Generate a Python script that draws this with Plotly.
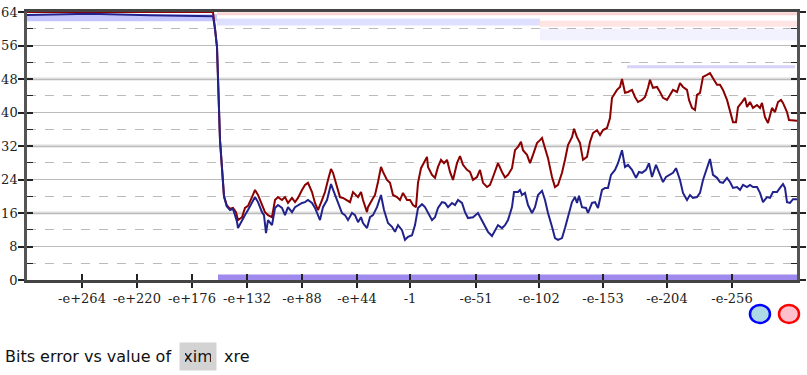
import plotly.graph_objects as go

# ---- data (positions along the ordinal x axis, bits of error on y) ----
red_x = [0, 186, 188, 190, 193, 195.7, 197, 199.7, 203, 206, 209, 211, 215, 218, 221, 225, 228, 231, 235, 238,
         241, 245, 248, 251, 255, 258, 261, 265, 268, 271, 275, 278, 281, 285, 288, 291, 295, 298, 301, 304,
         306, 310, 313, 316, 320, 323, 326, 331, 334, 336, 340, 341, 345, 348, 351, 354, 356, 360, 363, 366,
         370, 373, 376, 380, 383, 386, 389, 391, 394, 398, 400, 401, 405, 408, 411, 414, 417, 420, 423, 426,
         430, 433, 436, 440, 443, 446, 450, 453, 456, 460, 463, 466, 471, 475, 478, 481, 485, 488, 491, 494,
         496, 500, 503, 506, 510, 513, 515, 518, 521, 525, 528, 531, 535, 538, 541, 545, 547, 550, 553, 556,
         560, 563, 566, 570, 573, 576, 580, 583, 585, 590, 593, 595, 598, 601, 605, 608, 611, 615, 618, 621,
         623, 626, 630, 633, 636, 640, 643, 646, 650, 653, 656, 660, 662, 665, 668, 670, 673, 676, 680, 683,
         686, 690, 693, 696, 700, 703, 706, 709, 711, 715, 718, 720, 723, 726, 730, 733, 735, 738, 741, 745,
         748, 751, 754, 756, 760, 762, 770]
red_y = [64, 64, 60, 55.6, 33.4, 23.9, 20, 17.9, 17.0, 17.2, 16.2, 14.3, 15.0, 17.2, 17.7, 19.8, 21.5, 20.3, 17.9, 16.2,
         15.5, 15.0, 19.1, 19.8, 19.1, 19.8, 18.4, 19.6, 18.6, 19.6, 21.5, 22.7, 23.2, 21.0, 18.4, 16.7, 19.1, 21.0, 23.9, 26.5,
         25.6, 22.2, 19.8, 19.6, 19.1, 18.6, 21.0, 19.8, 21.0, 19.1, 16.2, 17.4, 19.1, 20.3, 23.4, 27.0, 25.8, 23.9, 23.2, 20.3,
         19.8, 19.1, 20.8, 19.1, 19.1, 17.9, 17.4, 23.2, 26.7, 28.7, 29.4, 27.0, 25.1, 24.4, 27.0, 28.7, 27.9, 28.7, 25.8, 23.9,
         27.9, 29.6, 27.5, 26.3, 25.8, 23.9, 24.6, 26.3, 23.2, 22.2, 22.7, 24.6, 27.9, 25.8, 24.5, 25.1, 26.7, 31.0, 31.8, 33.0,
         31.0, 29.9, 27.9, 29.9, 32.7, 33.4, 33.9, 31.5, 29.1, 24.6, 22.2, 22.7, 25.6, 28.7, 32.2, 34.1, 36.1, 34.1, 32.7, 28.7,
         29.4, 33.0, 35.1, 35.8, 34.6, 35.8, 36.3, 38.7, 43.5, 45.4, 46.1, 48.0, 44.7, 44.9, 45.4, 43.7, 42.5, 43.0, 43.7, 45.9,
         47.8, 45.9, 46.1, 44.9, 43.5, 43.0, 44.2, 45.4, 44.9, 47.0, 46.1, 45.4, 43.0, 41.1, 40.6, 44.2, 44.7, 48.5, 49.0, 49.4,
         48.2, 46.6, 46.6, 45.4, 43.0, 40.6, 37.7, 37.7, 41.3, 42.5, 43.5, 41.3, 42.5, 41.1, 41.8, 41.1, 42.3, 38.9, 37.5, 41.1,
         40.1, 42.5, 43.0, 42.3, 40.1, 38.2, 38.0]

blue_x = [0, 63, 123, 186, 188, 190, 193, 195.7, 197, 199.7, 203, 206, 210, 211, 215, 218, 221, 225, 228, 231,
          235, 237, 239, 241, 245, 248, 251, 255, 258, 261, 265, 268, 271, 275, 278, 281, 285, 288, 293, 296,
          300, 304, 307, 311, 315, 318, 321, 325, 328, 331, 334, 336, 340, 343, 346, 350, 354, 357, 361, 365,
          368, 371, 375, 378, 381, 385, 388, 391, 395, 398, 401, 405, 408, 411, 415, 418, 421, 425, 428, 431,
          435, 438, 441, 446, 451, 455, 458, 461, 465, 468, 471, 475, 478, 481, 485, 487, 491, 493, 495, 498,
          501, 505, 508, 511, 515, 518, 521, 525, 528, 531, 535, 538, 541, 545, 548, 550, 552, 555, 559, 561,
          565, 568, 571, 575, 578, 581, 584, 588, 591, 595, 598, 601, 605, 609, 612, 615, 619, 622, 625, 629,
          631, 633, 636, 639, 643, 646, 649, 653, 656, 660, 663, 666, 670, 673, 676, 679, 683, 686, 690, 693,
          696, 700, 703, 706, 710, 713, 716, 720, 723, 726, 730, 733, 736, 740, 743, 746, 750, 753, 756, 758,
          760, 763, 766, 770]
blue_y = [63.3, 63.6, 63.2, 63.0, 60, 55.6, 33.4, 23.9, 20, 17.6, 16.7, 17.0, 13.9, 12.4, 14.3, 15.5, 16.7, 18.4, 19.8, 18.6,
          16.2, 15.5, 11.2, 14.3, 13.1, 17.2, 17.9, 17.2, 15.5, 17.4, 16.2, 17.4, 17.9, 18.4, 18.6, 19.1, 18.4, 17.2, 14.3, 17.4,
          19.1, 22.9, 21.0, 18.6, 16.0, 15.5, 14.3, 16.0, 15.5, 13.8, 15.0, 13.6, 12.4, 15.0, 15.5, 17.4, 20.3, 16.7, 13.6, 12.7,
          11.5, 13.1, 11.9, 9.6, 10.3, 10.7, 13.1, 17.2, 18.1, 17.4, 16.0, 14.3, 15.0, 17.2, 18.6, 18.4, 17.4, 18.4, 17.9, 19.1,
          18.4, 16.2, 14.8, 15.0, 16.0, 14.3, 12.7, 11.5, 10.5, 11.9, 13.1, 12.4, 13.1, 14.3, 17.4, 21.0, 21.0, 21.5, 20.3, 20.8,
          17.9, 16.0, 17.4, 20.3, 21.3, 19.1, 16.0, 12.7, 10.0, 9.6, 10.0, 12.4, 15.0, 18.6, 19.8, 18.4, 20.1, 17.4, 17.2, 16.0,
          18.4, 18.6, 17.2, 21.5, 22.0, 22.0, 25.1, 26.3, 27.9, 31.0, 27.0, 27.5, 26.3, 24.4, 25.8, 25.6, 26.3, 27.9, 24.6, 27.5,
          26.3, 25.1, 23.4, 24.6, 25.1, 25.6, 26.7, 23.9, 20.8, 19.1, 20.3, 19.6, 19.8, 20.8, 23.9, 26.3, 28.9, 25.1, 24.4, 23.4,
          23.2, 24.4, 23.4, 22.0, 22.2, 21.5, 22.7, 22.2, 22.7, 22.2, 22.2, 20.8, 18.6, 19.8, 19.6, 21.0, 21.0, 22.0, 22.9, 22.0,
          18.6, 18.4, 19.3, 19.3]

# faint sample clouds (start, end, level in bits)
cloud_blue_left = ([0, 190], [62.6, 62.6])
cloud_red_top = ([190, 770], [63.6, 63.6])
cloud_blue_mid = ([190, 513], [61.6, 61.6])
cloud_red_mid = ([513, 770], [61.2, 61.2])
cloud_blue_low = ([513, 770], [58.6, 58.6])
cloud_band51 = ([600, 768], [50.9, 50.9])
cloud_bottom = ([191, 770], [0.6, 0.6])

tick_pos = [55, 110, 165, 220, 275, 330, 383, 449, 512, 576, 640, 705]
tick_text = ["-e+264", "-e+220", "-e+176", "-e+132", "-e+88", "-e+44", "-1",
             "-e-51", "-e-102", "-e-153", "-e-204", "-e-256"]
y_major = [0, 8, 16, 24, 32, 40, 48, 56, 64]
y_minor = [4, 12, 20, 28, 36, 44, 52, 60]
y_emph = [16, 32, 48]

X_RANGE = [0, 770]
Y_RANGE = [0, 64]

fig = go.Figure()

def cloud(c, color, width):
    fig.add_trace(go.Scatter(x=c[0], y=c[1], mode="lines", hoverinfo="skip",
                             line=dict(color=color, width=width), showlegend=False))

cloud(cloud_blue_left, "rgba(60,60,255,0.3)", 7)
cloud(cloud_red_top, "rgba(230,60,60,0.22)", 3)
cloud(cloud_blue_mid, "rgba(80,80,255,0.18)", 7)
cloud(cloud_red_mid, "rgba(255,90,90,0.16)", 6)
cloud(cloud_blue_low, "rgba(110,110,255,0.09)", 12)
cloud(cloud_band51, "rgba(100,80,230,0.25)", 3)
cloud(cloud_bottom, "rgba(80,40,220,0.55)", 6)

fig.add_trace(go.Scatter(x=red_x, y=red_y, mode="lines", xaxis="x2", yaxis="y2",
                         line=dict(color="#8b0000", width=2), showlegend=False))
fig.add_trace(go.Scatter(x=blue_x, y=blue_y, mode="lines", xaxis="x2", yaxis="y2",
                         line=dict(color="#22228c", width=2), showlegend=False))

serif = dict(family="DejaVu Serif", size=13, color="#222")

shapes = [dict(type="line", xref="paper", x0=0, x1=1, yref="y", y0=v, y1=v,
               line=dict(color="#dcdcdc", width=3), layer="between") for v in y_emph]
shapes.append(dict(type="circle", xref="paper", yref="paper", xsizemode="pixel", ysizemode="pixel",
                   xanchor=0.9519, yanchor=-0.1269, x0=-10, x1=10, y0=-9, y1=9,
                   line=dict(color="blue", width=2.5), fillcolor="lightblue"))
shapes.append(dict(type="circle", xref="paper", yref="paper", xsizemode="pixel", ysizemode="pixel",
                   xanchor=0.9896, yanchor=-0.1269, x0=-10, x1=10, y0=-9, y1=9,
                   line=dict(color="red", width=2.5), fillcolor="pink"))

sans = dict(family="DejaVu Sans", size=16, color="#111")
annotations = [
    dict(text="Bits error vs value of", xref="paper", yref="paper", x=-0.0312, y=-0.2836,
         xanchor="left", yanchor="middle", showarrow=False, font=sans),
    dict(text="xim", xref="paper", yref="paper", x=0.2221, y=-0.2855, xanchor="center",
         yanchor="middle", showarrow=False, font=sans, bgcolor="#d3d3d3",
         width=26, height=17, borderpad=5, borderwidth=1, bordercolor="rgba(0,0,0,0)"),
    dict(text="xre", xref="paper", yref="paper", x=0.2727, y=-0.2836, xanchor="center",
         yanchor="middle", showarrow=False, font=sans),
]

fig.update_layout(
    template="none",
    width=807, height=375,
    margin=dict(l=27, r=10, t=12, b=95, autoexpand=False),
    paper_bgcolor="white", plot_bgcolor="white",
    showlegend=False,
    xaxis=dict(range=X_RANGE, tickmode="array", tickvals=tick_pos, ticktext=tick_text,
               ticks="outside", ticklen=5, tickwidth=1.5, tickcolor="#222",
               showline=True, linecolor="#444", linewidth=2.5, mirror=True, automargin=False,
               showgrid=False, zeroline=False, tickfont=serif),
    yaxis=dict(range=Y_RANGE, tickmode="array", tickvals=y_major,
               ticks="outside", ticklen=6, tickwidth=1.5, tickcolor="#222", ticklabelstandoff=-2,
               showline=True, linecolor="#555", linewidth=2.5, mirror="allticks", automargin=False,
               showgrid=True, gridcolor="#bbb", gridwidth=1, zeroline=False, tickfont=serif,
               minor=dict(tickmode="array", tickvals=y_minor, ticks="inside", ticklen=6,
                          tickwidth=1.2, tickcolor="#222", showgrid=True, gridcolor="#bbb",
                          griddash="dash", gridwidth=1)),
    xaxis2=dict(range=X_RANGE, overlaying="x", anchor="y2", side="bottom", tickmode="array",
                tickvals=tick_pos, ticks="inside", ticklen=6, tickwidth=1.5, tickcolor="#222",
                showticklabels=False, showgrid=False, showline=False, zeroline=False,
                automargin=False),
    yaxis2=dict(range=Y_RANGE, overlaying="y", anchor="x2", side="left", tickmode="array",
                tickvals=y_major, ticks="inside", ticklen=6, tickwidth=1.5, tickcolor="#222",
                mirror="ticks", showticklabels=False, showgrid=False, showline=False,
                zeroline=False, automargin=False),
    shapes=shapes,
    annotations=annotations,
)

fig.write_html("out.html", config={"displayModeBar": False},
               post_script="document.body.style.margin='0';")
